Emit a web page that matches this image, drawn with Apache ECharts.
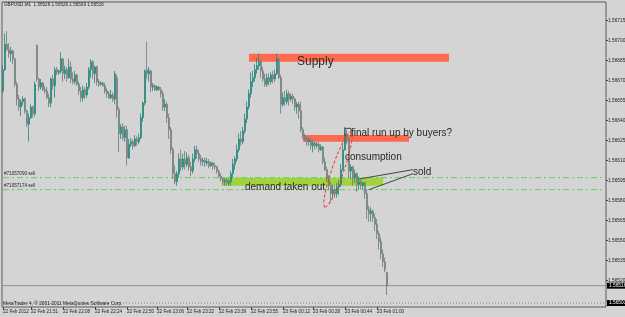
<!DOCTYPE html>
<html><head><meta charset="utf-8">
<script src="https://cdn.jsdelivr.net/npm/echarts@6/dist/echarts.min.js"></script>
<style>html,body{margin:0;padding:0;background:#d4d4d4;}#c{width:625px;height:317px;}</style>
</head><body><div id="c"></div>
<script>
const opens=[1.56662,1.56678,1.56697,1.56693,1.56690,1.56692,1.56686,1.56667,1.56656,1.56650,
1.56654,1.56656,1.56647,1.56637,1.56642,1.56650,1.56645,1.56696,1.56671,1.56665,
1.56668,1.56663,1.56662,1.56657,1.56653,1.56671,1.56666,1.56678,1.56676,1.56677,
1.56686,1.56675,1.56678,1.56672,1.56680,1.56671,1.56669,1.56674,1.56667,1.56662,
1.56657,1.56663,1.56659,1.56665,1.56678,1.56684,1.56675,1.56680,1.56669,1.56667,
1.56668,1.56666,1.56662,1.56660,1.56657,1.56659,1.56656,1.56672,1.56648,1.56630,
1.56635,1.56627,1.56633,1.56612,1.56622,1.56624,1.56621,1.56626,1.56624,1.56627,
1.56642,1.56653,1.56678,1.56675,1.56677,1.56665,1.56666,1.56663,1.56665,1.56663,
1.56660,1.56650,1.56652,1.56642,1.56633,1.56618,1.56600,1.56594,1.56600,1.56611,
1.56605,1.56611,1.56607,1.56612,1.56605,1.56602,1.56611,1.56618,1.56615,1.56611,
1.56609,1.56610,1.56608,1.56609,1.56606,1.56608,1.56606,1.56605,1.56602,1.56598,
1.56596,1.56594,1.56595,1.56593,1.56594,1.56600,1.56607,1.56611,1.56618,1.56626,
1.56624,1.56632,1.56641,1.56650,1.56660,1.56669,1.56672,1.56678,1.56681,1.56684,
1.56677,1.56671,1.56667,1.56672,1.56669,1.56674,1.56671,1.56675,1.56686,1.56672,
1.56652,1.56657,1.56654,1.56660,1.56656,1.56658,1.56656,1.56650,1.56652,1.56647,
1.56633,1.56628,1.56626,1.56624,1.56625,1.56621,1.56623,1.56621,1.56622,1.56618,
1.56620,1.56609,1.56603,1.56596,1.56591,1.56585,1.56588,1.56585,1.56590,1.56592,
1.56603,1.56618,1.56630,1.56626,1.56602,1.56605,1.56597,1.56600,1.56592,1.56594,
1.56591,1.56593,1.56585,1.56573,1.56570,1.56572,1.56567,1.56562,1.56555,1.56549,
1.56540,1.56534,1.56526];
const closes=[1.56678,1.56697,1.56693,1.56690,1.56692,1.56686,1.56667,1.56656,1.56650,1.56654,
1.56656,1.56647,1.56637,1.56642,1.56650,1.56645,1.56667,1.56671,1.56665,1.56668,
1.56663,1.56662,1.56657,1.56653,1.56671,1.56666,1.56678,1.56676,1.56677,1.56686,
1.56675,1.56678,1.56672,1.56680,1.56671,1.56669,1.56674,1.56667,1.56662,1.56657,
1.56663,1.56659,1.56665,1.56678,1.56684,1.56675,1.56680,1.56669,1.56667,1.56668,
1.56666,1.56662,1.56660,1.56657,1.56659,1.56656,1.56675,1.56648,1.56630,1.56635,
1.56627,1.56633,1.56612,1.56622,1.56624,1.56621,1.56626,1.56624,1.56627,1.56642,
1.56653,1.56677,1.56675,1.56677,1.56665,1.56666,1.56663,1.56665,1.56663,1.56660,
1.56650,1.56652,1.56642,1.56633,1.56618,1.56600,1.56594,1.56600,1.56611,1.56605,
1.56611,1.56607,1.56612,1.56605,1.56602,1.56611,1.56618,1.56615,1.56611,1.56609,
1.56610,1.56608,1.56609,1.56606,1.56608,1.56606,1.56605,1.56602,1.56598,1.56596,
1.56594,1.56595,1.56593,1.56594,1.56600,1.56607,1.56611,1.56618,1.56626,1.56624,
1.56632,1.56641,1.56650,1.56660,1.56669,1.56672,1.56678,1.56681,1.56684,1.56677,
1.56671,1.56667,1.56672,1.56669,1.56674,1.56671,1.56675,1.56686,1.56672,1.56652,
1.56657,1.56654,1.56660,1.56656,1.56658,1.56656,1.56650,1.56652,1.56647,1.56633,
1.56628,1.56626,1.56624,1.56625,1.56621,1.56623,1.56621,1.56622,1.56618,1.56620,
1.56609,1.56603,1.56596,1.56591,1.56585,1.56588,1.56585,1.56590,1.56592,1.56603,
1.56618,1.56630,1.56626,1.56602,1.56605,1.56597,1.56600,1.56592,1.56594,1.56591,
1.56593,1.56585,1.56573,1.56570,1.56572,1.56567,1.56562,1.56555,1.56549,1.56540,
1.56534,1.56528,1.56516];
const lows=[1.56660,1.56677,1.56692,1.56687,1.56684,1.56682,1.56665,1.56651,1.56647,1.56643,
1.56651,1.56645,1.56635,1.56624,1.56641,1.56642,1.56643,1.56669,1.56662,1.56663,
1.56662,1.56660,1.56656,1.56650,1.56650,1.56663,1.56657,1.56674,1.56674,1.56675,
1.56669,1.56671,1.56669,1.56671,1.56668,1.56667,1.56667,1.56666,1.56659,1.56654,
1.56654,1.56656,1.56657,1.56663,1.56672,1.56671,1.56668,1.56666,1.56665,1.56666,
1.56665,1.56660,1.56657,1.56656,1.56656,1.56654,1.56652,1.56642,1.56616,1.56626,
1.56625,1.56624,1.56606,1.56611,1.56620,1.56618,1.56620,1.56621,1.56622,1.56626,
1.56639,1.56651,1.56671,1.56669,1.56661,1.56662,1.56662,1.56662,1.56662,1.56657,
1.56647,1.56647,1.56638,1.56626,1.56615,1.56596,1.56592,1.56591,1.56597,1.56602,
1.56603,1.56603,1.56605,1.56602,1.56598,1.56600,1.56609,1.56611,1.56609,1.56606,
1.56606,1.56605,1.56606,1.56604,1.56605,1.56603,1.56603,1.56600,1.56597,1.56594,
1.56591,1.56591,1.56591,1.56591,1.56591,1.56597,1.56603,1.56609,1.56616,1.56621,
1.56622,1.56630,1.56638,1.56648,1.56657,1.56665,1.56669,1.56675,1.56678,1.56672,
1.56669,1.56665,1.56665,1.56666,1.56667,1.56668,1.56669,1.56674,1.56671,1.56645,
1.56650,1.56651,1.56652,1.56651,1.56654,1.56652,1.56647,1.56645,1.56641,1.56631,
1.56626,1.56624,1.56621,1.56621,1.56618,1.56616,1.56618,1.56619,1.56616,1.56617,
1.56607,1.56602,1.56594,1.56588,1.56579,1.56581,1.56582,1.56582,1.56584,1.56590,
1.56602,1.56617,1.56622,1.56597,1.56596,1.56591,1.56593,1.56586,1.56588,1.56588,
1.56588,1.56581,1.56566,1.56564,1.56564,1.56564,1.56557,1.56551,1.56543,1.56536,
1.56530,1.56526,1.56509];
const highs=[1.56681,1.56705,1.56707,1.56698,1.56695,1.56693,1.56687,1.56669,1.56659,1.56656,
1.56658,1.56657,1.56648,1.56645,1.56652,1.56651,1.56669,1.56697,1.56672,1.56671,
1.56669,1.56666,1.56665,1.56660,1.56672,1.56674,1.56680,1.56680,1.56678,1.56691,
1.56687,1.56681,1.56680,1.56686,1.56684,1.56676,1.56677,1.56675,1.56669,1.56665,
1.56666,1.56665,1.56668,1.56680,1.56686,1.56685,1.56681,1.56681,1.56671,1.56669,
1.56669,1.56668,1.56664,1.56662,1.56663,1.56661,1.56677,1.56674,1.56650,1.56637,
1.56638,1.56636,1.56636,1.56626,1.56627,1.56626,1.56629,1.56628,1.56630,1.56645,
1.56654,1.56678,1.56699,1.56680,1.56678,1.56668,1.56667,1.56666,1.56666,1.56665,
1.56662,1.56656,1.56654,1.56645,1.56635,1.56620,1.56606,1.56602,1.56615,1.56618,
1.56615,1.56617,1.56616,1.56614,1.56609,1.56615,1.56621,1.56621,1.56618,1.56614,
1.56612,1.56612,1.56612,1.56611,1.56609,1.56609,1.56608,1.56606,1.56603,1.56600,
1.56597,1.56597,1.56597,1.56596,1.56602,1.56611,1.56613,1.56622,1.56630,1.56632,
1.56635,1.56645,1.56654,1.56663,1.56676,1.56677,1.56682,1.56687,1.56690,1.56686,
1.56680,1.56675,1.56675,1.56675,1.56676,1.56677,1.56678,1.56690,1.56687,1.56674,
1.56661,1.56662,1.56663,1.56662,1.56660,1.56660,1.56657,1.56654,1.56654,1.56654,
1.56635,1.56630,1.56628,1.56627,1.56627,1.56625,1.56624,1.56624,1.56624,1.56622,
1.56621,1.56612,1.56605,1.56599,1.56594,1.56592,1.56591,1.56593,1.56595,1.56607,
1.56622,1.56635,1.56633,1.56627,1.56607,1.56606,1.56603,1.56601,1.56598,1.56596,
1.56594,1.56594,1.56588,1.56576,1.56575,1.56573,1.56570,1.56566,1.56557,1.56552,
1.56543,1.56537,1.56526];

const totalBars = 302;
const priceTicks=[1.56520,1.56535,1.56550,1.56565,1.56580,1.56595,1.56610,1.56625,1.56640,1.56655,1.56670,1.56685,1.56700,1.56715];
const timeLabels=['22 Feb 2012','22 Feb 21:51','22 Feb 22:08','22 Feb 22:24','22 Feb 22:50','22 Feb 23:06','22 Feb 23:22','22 Feb 23:39','22 Feb 23:55','23 Feb 00:12','23 Feb 00:28','23 Feb 00:44','23 Feb 01:00'];
const timeLabelBars=[0,14,30,46,62,77,92,108,124,140,155,171,187];
const bidPrice=1.56516;
const lowerLine=1.56503;
const orderLevels=[1.56597,1.56588];
const orderNames=['#71057090 sell','#71057174 sell'];
const zoneFrom=[[123,1.56690],[150,1.56629],[110,1.56597]];
const zoneTo=[[223,1.56684],[203,1.56624],[190,1.56591]];
const zoneColors=['#ff6a4e','#ff6a4e','#a2d23c'];
const headerText='GBPUSD,M1  1.56526 1.56526 1.56509 1.56516';
const notes=[['Supply',147,1.56684,12],['final run up by buyers?',174,1.56630,10],['consumption',171,1.56612,10],['demand taken out',121,1.56590,10],['sold',205,1.56601,10]];

const FONT='Liberation Sans, Arial, sans-serif';
const cats=Array.from({length:totalBars},(_,i)=>i);
const candles=opens.map((o,i)=>[o,closes[i],lows[i],highs[i]]);
const isLabel=(idx)=>timeLabelBars.indexOf(idx)>=0;
const hline=(price,color,type,withBox)=>({type:'line',data:[[0,price],[totalBars-1,price]],z:2,silent:true,symbol:'none',
  lineStyle:{color:color,width:1,type:type},
  endLabel:withBox?{show:true,formatter:price.toFixed(5),color:'#fff',backgroundColor:'#000',fontSize:4.8,padding:[1,2,0,2],distance:2,fontFamily:FONT}:{show:false}});

const chart=echarts.init(document.getElementById('c'),null,{renderer:'canvas'});
const option={
  animation:false,
  backgroundColor:'#d4d4d4',
  grid:{left:2,right:19,top:2,bottom:10,show:true,borderColor:'#5a5a5a',borderWidth:1,containLabel:false,outerBoundsMode:'none'},
  xAxis:{type:'category',data:cats,boundaryGap:true,
    axisLine:{show:false},
    axisTick:{show:true,interval:(i)=>isLabel(i),alignWithLabel:true,length:3,lineStyle:{color:'#444'}},
    axisLabel:{show:true,interval:(i)=>isLabel(i),formatter:(v,i)=>timeLabels[timeLabelBars.indexOf(i)]||'',align:'left',margin:2,fontSize:4.6,color:'#222',fontFamily:FONT,hideOverlap:false},
    splitLine:{show:false}},
  yAxis:{type:'value',position:'right',min:1.565,max:1.5672875,scale:true,
    axisLine:{show:false},
    axisTick:{show:true,length:2,customValues:priceTicks,lineStyle:{color:'#444'}},
    axisLabel:{show:true,customValues:priceTicks,formatter:(v)=>v.toFixed(5),margin:2,fontSize:4.8,color:'#222',fontFamily:FONT},
    splitLine:{show:false}},
  series:[
    {type:'line',data:[],z:1,silent:true,
      markArea:{silent:true,data:zoneFrom.map((f,k)=>[{coord:f,itemStyle:{color:zoneColors[k],opacity:1}},{coord:zoneTo[k]}])}},
    hline(bidPrice,'#8d9593','solid',true),
    hline(lowerLine,'#6f8580',[1,2],true),
    hline(orderLevels[0],'#5fd25f',[6,3,2,3],false),
    hline(orderLevels[1],'#5fd25f',[6,3,2,3],false),
    {type:'candlestick',z:3,data:candles,barWidth:1.4,
      itemStyle:{color:'#2a9a8e',borderColor:'#27867c',color0:'#a9b3af',borderColor0:'#6e7c78',borderWidth:0.8}}
  ]
};
chart.setOption(option);

const P=(i,p)=>chart.convertToPixel({gridIndex:0},[i,p]);
const g=[];
g.push({type:'text',left:4,top:2,style:{text:headerText,fontSize:4.6,fill:'#222',fontFamily:FONT},z:10});
g.push({type:'text',left:3,top:301,style:{text:'MetaTrader 4, © 2001-2011 MetaQuotes Software Corp.',fontSize:4.8,fill:'#222',fontFamily:FONT},z:10});
orderLevels.forEach((lv,k)=>{const q=P(0,lv);g.push({type:'text',x:4,y:q[1]-1,style:{text:orderNames[k],fontSize:4.6,fill:'#222',fontFamily:FONT,verticalAlign:'bottom',align:'left'},z:10});});
notes.forEach(n=>{const q=P(n[1],n[2]);g.push({type:'text',x:q[0],y:q[1],style:{text:n[0],fontSize:n[3],fill:'#2a2a2a',fontFamily:FONT,verticalAlign:'middle',align:'left'},z:10});});
const soldA=P(205,1.56603), soldB=P(178,1.56596), soldC=P(205,1.56600), soldD=P(183,1.56588);
g.push({type:'line',shape:{x1:soldA[0],y1:soldA[1],x2:soldB[0],y2:soldB[1]},style:{stroke:'#444',lineWidth:1},z:10});
g.push({type:'line',shape:{x1:soldC[0],y1:soldC[1],x2:soldD[0],y2:soldD[1]},style:{stroke:'#444',lineWidth:1},z:10});
const b1=P(171,1.56628),b2=P(171,1.56634),b3=P(174,1.56634),b4=P(174,1.56628);
g.push({type:'polyline',shape:{points:[b1,b2,b3,b4]},style:{stroke:'#444',lineWidth:1,fill:null},z:10});
const e1=P(161,1.56575), e2=P(174,1.56631);
const cx=(e1[0]+e2[0])/2, cy=(e1[1]+e2[1])/2;
const len=Math.hypot(e2[0]-e1[0],e2[1]-e1[1]);
const ang=Math.atan2(e1[1]-e2[1],e2[0]-e1[0]);
g.push({type:'ellipse',x:cx,y:cy,rotation:ang,shape:{cx:0,cy:0,rx:len/2,ry:6},style:{stroke:'#ee3b2b',lineWidth:1,lineDash:[3,2],fill:null},z:10});
chart.setOption({graphic:g});
</script></body></html>
